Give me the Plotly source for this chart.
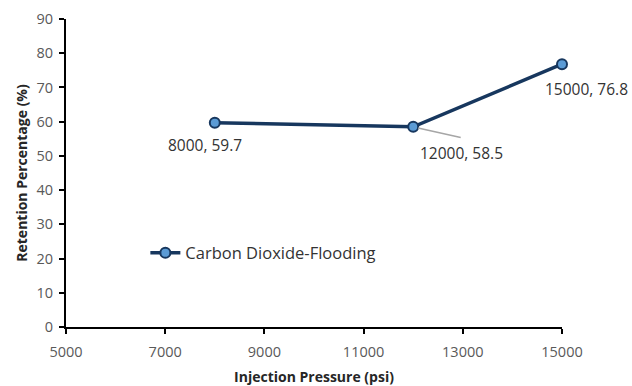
import plotly.graph_objects as go

pressure = [8000, 12000, 15000]
retention = [59.7, 58.5, 76.8]
series_name = "Carbon Dioxide-Flooding"
x_ticks = [5000, 7000, 9000, 11000, 13000, 15000]
y_ticks = [0, 10, 20, 30, 40, 50, 60, 70, 80, 90]

navy = "#17375E"
fig = go.Figure()
fig.add_trace(go.Scatter(
    x=pressure, y=retention, mode="lines+markers", name=series_name,
    line=dict(color=navy, width=3.5),
    marker=dict(size=10, color="#5B9BD5", line=dict(color=navy, width=2)),
    cliponaxis=False,
))

font = "Open Sans, Liberation Sans, sans-serif"
lab_font = dict(size=15.5, color="#333333", family=font)
# label offsets (pixels)
offsets = [(-10, -22, None), (48, -26, (49, 11)), (24, -25, None)]
for px, py, (dx, dy, arrow) in zip(pressure, retention, offsets):
    label = f"{px}, {py}"
    if arrow:
        fig.add_annotation(x=px, y=py, text="", showarrow=True, arrowhead=0,
                           arrowcolor="#A6A6A6", arrowwidth=1.5,
                           ax=arrow[0], ay=arrow[1], standoff=5)
    fig.add_annotation(x=px, y=py, text=label, showarrow=False,
                       xshift=dx, yshift=dy, font=lab_font)

fig.update_layout(
    width=632, height=386,
    margin=dict(l=66, r=70, t=19, b=59),
    paper_bgcolor="white", plot_bgcolor="white",
    font=dict(family=font, color="#595959", size=14.5),
    showlegend=True,
    legend=dict(x=0.16, y=0.24, xanchor="left", yanchor="middle",
                bgcolor="rgba(0,0,0,0)", font=dict(size=16.5, color="#333333")),
    xaxis=dict(range=[5000, 15000], tickvals=x_ticks, ticktext=[str(v) for v in x_ticks],
               showgrid=False, zeroline=False, automargin=False,
               showline=True, linecolor="black", linewidth=2, ticks="outside",
               tickcolor="black", tickwidth=2, ticklen=5, ticklabelstandoff=6,
               title=dict(text="<b>Injection Pressure (psi)</b>", standoff=14,
                          font=dict(size=14, color="#262626"))),
    yaxis=dict(range=[0, 90], tickvals=y_ticks, showgrid=False, zeroline=False,
               automargin=False,
               showline=True, linecolor="black", linewidth=2, ticks="outside",
               tickcolor="black", tickwidth=2, ticklen=5, ticklabelstandoff=3,
               title=dict(text="<b>Retention Percentage (%)</b>", standoff=6,
                          font=dict(size=14, color="#262626"))),
)

fig.write_html("out.html")
